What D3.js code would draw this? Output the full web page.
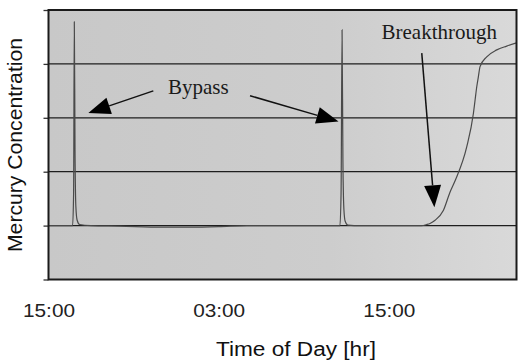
<!DOCTYPE html>
<html>
<head>
<meta charset="utf-8">
<script src="https://cdn.jsdelivr.net/npm/d3@7"></script>
<style>
  html, body { margin: 0; padding: 0; background: #fff; }
  svg { display: block; }
</style>
</head>
<body>
<svg id="chart" width="527" height="362"></svg>
<script>
// ---- data (hours since 15:00, concentration in grid units) ----
const hours = [0, 1.0, 1.70, 1.77, 1.82, 1.87, 1.93, 2.02, 2.2, 3.0, 5.0, 8.0, 10.0, 12.0, 14.0,
  20.55, 20.63, 20.70, 20.76, 20.83, 20.92, 21.1, 22.0, 26.3,
  26.67, 26.9, 27.26, 27.84, 28.31, 28.7, 29.49, 29.96, 30.08, 30.2, 30.31, 30.43,
  30.9, 31.61, 32.31, 33.0];
const mercury = [1.0, 1.0, 1.0, 1.6, 4.78, 2.4, 1.35, 1.1, 1.02, 1.0, 0.99, 0.97, 0.97, 0.98, 1.0,
  1.0, 1.6, 4.63, 2.2, 1.3, 1.08, 1.01, 1.0, 1.0,
  1.02, 1.04, 1.1, 1.28, 1.62, 1.85, 2.46, 3.08, 3.33, 3.58, 3.76, 3.95,
  4.13, 4.26, 4.33, 4.39];
const xTickValues = [0, 12, 24];
const xTickLabels = ["15:00", "03:00", "15:00"];
const yTickValues = [0, 1, 2, 3, 4, 5];
const gridValues = [1, 2, 3, 4];
// annotations: text position and arrows in data units
const annoTexts = ["Bypass", "Breakthrough"];
const annoTextX = [8.43, 23.48];
const annoTextY = [3.44, 4.46];
const arrowFromX = [7.39, 14.21, 26.32];
const arrowFromY = [3.50, 3.41, 4.20];
const arrowToX = [2.81, 20.45, 27.21];
const arrowToY = [3.09, 2.93, 1.34];

const svg = d3.select("#chart");
const mLeft = 48.5, mRight = 516.5, mTop = 10, mBottom = 279.5;

const x = d3.scaleLinear().domain([0, 33]).range([mLeft, mRight]);
const y = d3.scaleLinear().domain([0, 5]).range([mBottom, mTop]);

// plot background
const defs = svg.append("defs");
const grad = defs.append("linearGradient").attr("id", "bg").attr("x1", "0").attr("x2", "1");
grad.append("stop").attr("offset", "0").attr("stop-color", "#c8c8c8");
grad.append("stop").attr("offset", "0.6").attr("stop-color", "#cdcdcd");
grad.append("stop").attr("offset", "1").attr("stop-color", "#d9d9d9");

svg.append("rect")
  .attr("x", mLeft).attr("y", mTop)
  .attr("width", mRight - mLeft).attr("height", mBottom - mTop)
  .attr("fill", "url(#bg)");

// gridlines
svg.append("g").selectAll("line").data(gridValues).join("line")
  .attr("x1", mLeft).attr("x2", mRight)
  .attr("y1", d => y(d)).attr("y2", d => y(d))
  .attr("stroke", "#1e1e1e").attr("stroke-width", 1.3);

// y axis ticks (no labels)
const yAxis = d3.axisLeft(y).tickValues(yTickValues).tickSize(5).tickFormat("");
const gy = svg.append("g").attr("transform", `translate(${mLeft},0)`).call(yAxis);
gy.select(".domain").remove();
gy.selectAll(".tick line").attr("stroke", "#333").attr("stroke-width", 1.3);

// x axis labels
const xAxis = d3.axisBottom(x).tickValues(xTickValues).tickSize(0)
  .tickFormat((d, i) => xTickLabels[i]);
const gx = svg.append("g").attr("transform", `translate(0,${mBottom})`).call(xAxis);
gx.select(".domain").remove();
gx.selectAll(".tick text")
  .attr("y", 37).attr("dy", 0)
  .attr("font-family", "'Liberation Sans', Arial, sans-serif")
  .attr("font-size", 19)
  .attr("fill", "#222")
  .attr("textLength", 52).attr("lengthAdjust", "spacingAndGlyphs");

// data line
const line = d3.line()
  .x((d, i) => x(hours[i]))
  .y((d, i) => y(mercury[i]))
  .curve(d3.curveMonotoneX);
svg.append("path")
  .datum(mercury)
  .attr("d", line)
  .attr("fill", "none")
  .attr("stroke", "#4a4a4a")
  .attr("stroke-width", 1.2);

// frame
svg.append("rect")
  .attr("x", mLeft).attr("y", mTop)
  .attr("width", mRight - mLeft).attr("height", mBottom - mTop)
  .attr("fill", "none").attr("stroke", "#1a1a1a").attr("stroke-width", 2);

// annotations
svg.append("g").selectAll("text").data(annoTexts).join("text")
  .attr("x", (d, i) => x(annoTextX[i]))
  .attr("y", (d, i) => y(annoTextY[i]))
  .attr("font-family", "'Liberation Serif', 'Times New Roman', serif")
  .attr("font-size", 21)
  .attr("fill", "#1a1a1a")
  .text(d => d);

const arrows = arrowFromX.map((d, i) => ({
  x1: x(arrowFromX[i]), y1: y(arrowFromY[i]),
  x2: x(arrowToX[i]), y2: y(arrowToY[i])
}));
const headLen = 22, headHalf = 8.5;
const ag = svg.append("g");
arrows.forEach(a => {
  const dx = a.x2 - a.x1, dy = a.y2 - a.y1;
  const L = Math.hypot(dx, dy);
  const ux = dx / L, uy = dy / L;
  const bx = a.x2 - ux * headLen, by = a.y2 - uy * headLen;
  ag.append("line")
    .attr("x1", a.x1).attr("y1", a.y1)
    .attr("x2", bx).attr("y2", by)
    .attr("stroke", "#111").attr("stroke-width", 1.5);
  ag.append("path")
    .attr("d", `M${a.x2},${a.y2}L${bx - uy * headHalf},${by + ux * headHalf}L${bx + uy * headHalf},${by - ux * headHalf}Z`)
    .attr("fill", "#000");
});

// axis titles
svg.append("text")
  .attr("x", 296).attr("y", 356)
  .attr("text-anchor", "middle")
  .attr("font-family", "'Liberation Sans', Arial, sans-serif")
  .attr("font-size", 20)
  .attr("fill", "#111")
  .attr("textLength", 160).attr("lengthAdjust", "spacingAndGlyphs")
  .text("Time of Day [hr]");

svg.append("text")
  .attr("transform", `translate(22,145) rotate(-90)`)
  .attr("text-anchor", "middle")
  .attr("font-family", "'Liberation Sans', Arial, sans-serif")
  .attr("font-size", 21)
  .attr("fill", "#111")
  .attr("textLength", 214).attr("lengthAdjust", "spacingAndGlyphs")
  .text("Mercury Concentration");
</script>
</body>
</html>
